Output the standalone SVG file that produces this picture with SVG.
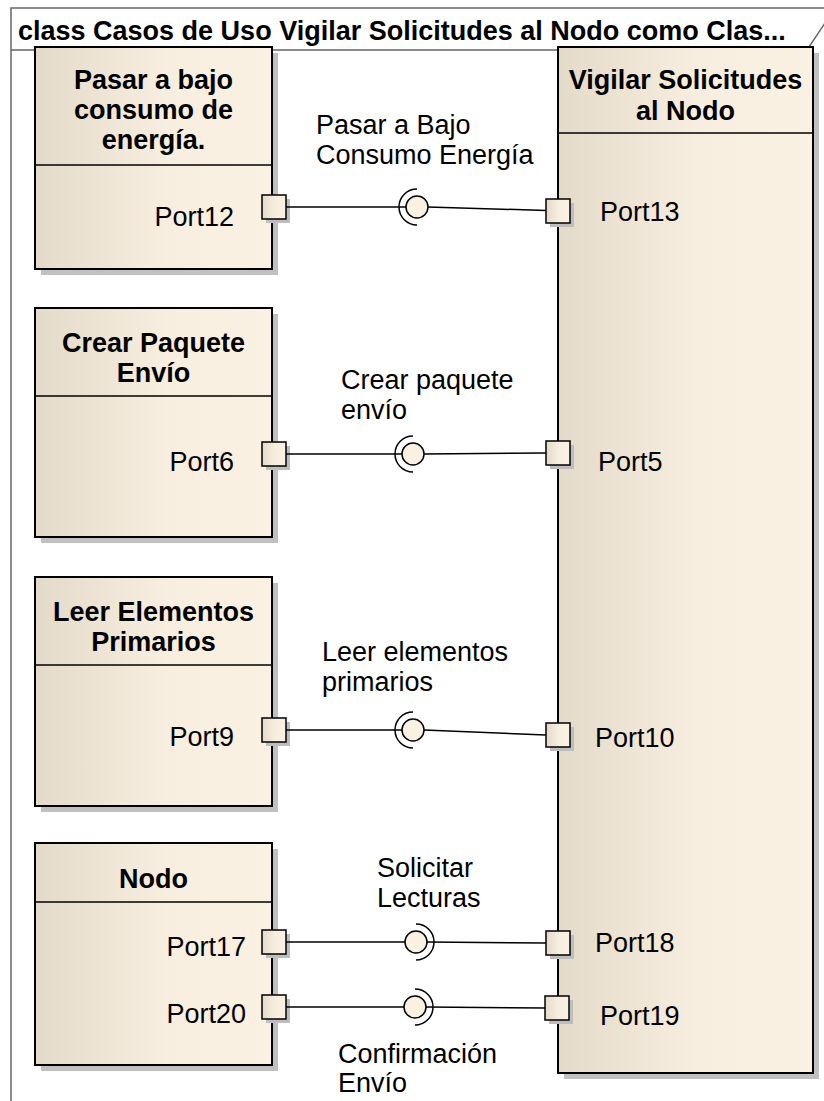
<svg xmlns="http://www.w3.org/2000/svg" width="824" height="1101" viewBox="0 0 824 1101">
<defs>
<linearGradient id="g" x1="0" y1="0" x2="1" y2="0">
<stop offset="0" stop-color="#E4DACA"/>
<stop offset="0.55" stop-color="#F8EEDF"/>
<stop offset="1" stop-color="#FBF1E3"/>
</linearGradient>
</defs>
<style>
text{font-family:"Liberation Sans",Arial,sans-serif;font-size:27px;fill:#000}
.b{font-weight:bold}
.m{text-anchor:middle}
.e{text-anchor:end}
.box{fill:url(#g);stroke:#000;stroke-width:2}
.sh{fill:#C0C0C0}
.div{stroke:#000;stroke-width:1.5}
.port{fill:url(#g);stroke:#000;stroke-width:1.5}
.psh{fill:#BDBDBD}
.ln{stroke:#000;stroke-width:1.5;fill:none}
.ball{fill:#FBF1E3;stroke:#000;stroke-width:1.5}
.frame{stroke:#666;stroke-width:1.5;fill:none}
</style>
<rect x="0" y="0" width="824" height="1101" fill="#fff"/>
<g id="frame">
<path class="frame" d="M11 1101 V8 H824"/>
<path class="frame" d="M11 50 H807 L825 23"/>
<text x="18" y="40" class="b">class Casos de Uso Vigilar Solicitudes al Nodo como Clas...</text>
</g>
<g id="node-pasar">
<rect class="sh" x="41" y="53" width="237" height="222"/>
<rect class="box" x="35" y="47" width="237" height="222"/>
<line class="div" x1="35" y1="165" x2="272" y2="165"/>
<text x="153.5" y="89" class="b m">Pasar a bajo</text>
<text x="153.5" y="119" class="b m">consumo de</text>
<text x="153.5" y="149" class="b m">energía.</text>
<text x="234" y="226" class="e">Port12</text>
</g>
<g id="node-crear">
<rect class="sh" x="41" y="314" width="237" height="229"/>
<rect class="box" x="35" y="308" width="237" height="229"/>
<line class="div" x1="35" y1="396" x2="272" y2="396"/>
<text x="153.5" y="352" class="b m">Crear Paquete</text>
<text x="153.5" y="382" class="b m">Envío</text>
<text x="234" y="471" class="e">Port6</text>
</g>
<g id="node-leer">
<rect class="sh" x="41" y="583" width="237" height="229"/>
<rect class="box" x="35" y="577" width="237" height="229"/>
<line class="div" x1="35" y1="665" x2="272" y2="665"/>
<text x="153.5" y="621" class="b m">Leer Elementos</text>
<text x="153.5" y="651" class="b m">Primarios</text>
<text x="234" y="746" class="e">Port9</text>
</g>
<g id="node-nodo">
<rect class="sh" x="41" y="849" width="237" height="222"/>
<rect class="box" x="35" y="843" width="237" height="222"/>
<line class="div" x1="35" y1="902" x2="272" y2="902"/>
<text x="153.5" y="888" class="b m">Nodo</text>
<text x="246" y="956" class="e">Port17</text>
<text x="246" y="1023" class="e">Port20</text>
</g>
<g id="node-vigilar">
<rect class="sh" x="564" y="53" width="255" height="1026"/>
<rect class="box" x="558" y="47" width="255" height="1026"/>
<line class="div" x1="558" y1="133" x2="813" y2="133"/>
<text x="685.5" y="89" class="b m">Vigilar Solicitudes</text>
<text x="685.5" y="120" class="b m">al Nodo</text>
<text x="600" y="221">Port13</text>
<text x="598" y="471">Port5</text>
<text x="595" y="747">Port10</text>
<text x="595" y="952">Port18</text>
<text x="600" y="1025">Port19</text>
</g>
<g id="ports">
<rect class="psh" x="266" y="199" width="24" height="24"/>
<rect class="port" x="262" y="195" width="24" height="24"/>
<rect class="psh" x="550" y="203" width="24" height="24"/>
<rect class="port" x="546" y="199" width="24" height="24"/>
<rect class="psh" x="266" y="446" width="24" height="24"/>
<rect class="port" x="262" y="442" width="24" height="24"/>
<rect class="psh" x="550" y="445" width="24" height="24"/>
<rect class="port" x="546" y="441" width="24" height="24"/>
<rect class="psh" x="266" y="722" width="24" height="24"/>
<rect class="port" x="262" y="718" width="24" height="24"/>
<rect class="psh" x="550" y="727" width="24" height="24"/>
<rect class="port" x="546" y="723" width="24" height="24"/>
<rect class="psh" x="266" y="934" width="24" height="24"/>
<rect class="port" x="262" y="930" width="24" height="24"/>
<rect class="psh" x="550" y="935" width="24" height="24"/>
<rect class="port" x="546" y="931" width="24" height="24"/>
<rect class="psh" x="266" y="999" width="24" height="24"/>
<rect class="port" x="262" y="995" width="24" height="24"/>
<rect class="psh" x="549" y="1000" width="24" height="24"/>
<rect class="port" x="545" y="996" width="24" height="24"/>
</g>
<g id="connectors">
<path class="ln" d="M286 207 H406 M428 207 L546 210.5"/>
<path class="ln" d="M417 189 A18 18 0 0 0 417 225"/>
<circle class="ball" cx="417" cy="207" r="11"/>
<text x="316" y="134">Pasar a Bajo</text>
<text x="316" y="164">Consumo Energía</text>

<path class="ln" d="M286 454 H402 M424 454 L546 453"/>
<path class="ln" d="M413 436 A18 18 0 0 0 413 472"/>
<circle class="ball" cx="413" cy="454" r="11"/>
<text x="341" y="389">Crear paquete</text>
<text x="341" y="419">envío</text>

<path class="ln" d="M286 730 H402 M424 730 L546 735"/>
<path class="ln" d="M413 712 A18 18 0 0 0 413 748"/>
<circle class="ball" cx="413" cy="730" r="11"/>
<text x="322" y="661">Leer elementos</text>
<text x="322" y="691">primarios</text>

<path class="ln" d="M286 942 H405 M427 942 L546 943"/>
<path class="ln" d="M416 924 A18 18 0 0 1 416 960"/>
<circle class="ball" cx="416" cy="942" r="11"/>
<text x="377" y="877">Solicitar</text>
<text x="377" y="907">Lecturas</text>

<path class="ln" d="M286 1007 H404 M426 1007 L545 1008"/>
<path class="ln" d="M415 989 A18 18 0 0 1 415 1025"/>
<circle class="ball" cx="415" cy="1007" r="11"/>
<text x="338" y="1063">Confirmación</text>
<text x="338" y="1092">Envío</text>
</g>
</svg>
